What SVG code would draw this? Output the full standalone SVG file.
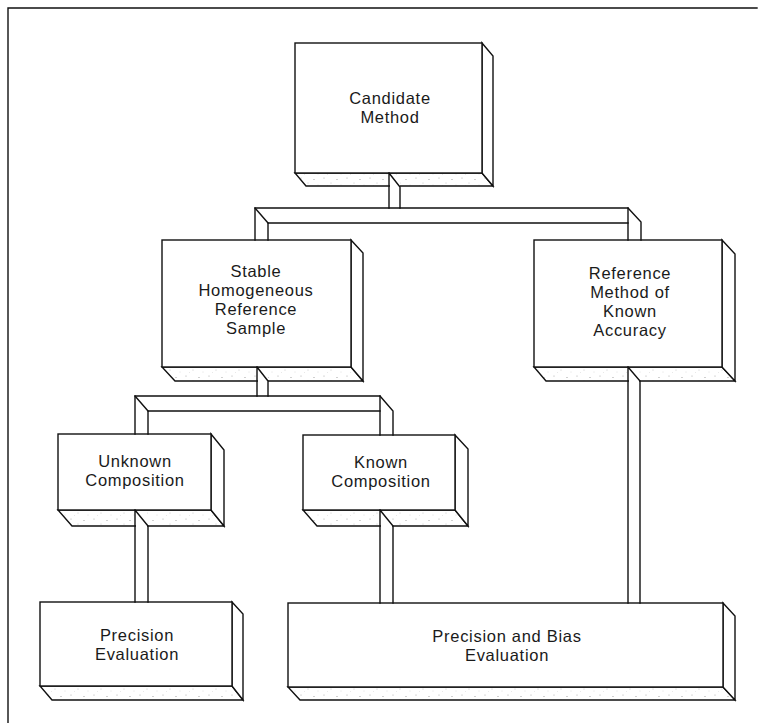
<svg xmlns="http://www.w3.org/2000/svg" width="760" height="723" viewBox="0 0 760 723">
<style>
.ln{fill:none;stroke:#111;stroke-width:1.4;stroke-linejoin:miter;stroke-linecap:square}
.front{fill:#fff;stroke:#111;stroke-width:1.4}
.side{fill:#fff;stroke:#111;stroke-width:1.4}
.bottom{fill:url(#stip);stroke:#111;stroke-width:1.4}
.t{font-family:"Liberation Sans",Arial,sans-serif;font-size:16.5px;letter-spacing:0.7px;fill:#1a1a1a;text-anchor:middle}
.gap{fill:#fff;stroke:none}
</style>
<defs>
<pattern id="stip" width="23" height="11" patternUnits="userSpaceOnUse">
<rect width="23" height="11" fill="#fff"/>
<circle cx="2" cy="2" r="0.6" fill="#aaa"/>
<circle cx="9" cy="7" r="0.5" fill="#bbb"/>
<circle cx="15" cy="3.5" r="0.6" fill="#999"/>
<circle cx="19" cy="9" r="0.4" fill="#bbb"/>
<circle cx="5.5" cy="9.5" r="0.4" fill="#ccc"/>
</pattern>
</defs>
<rect width="760" height="723" fill="#fff"/>
<path class="ln" d="M8,723 V8 H757"/>

<g id="candidate">
<polygon class="bottom" points="295,173 482,173 493,186 306,186"/>
<polygon class="side" points="482,43 493,56 493,186 482,173"/>
<rect class="front" x="295" y="43" width="187" height="130"/>
<text class="t" x="390" y="104">Candidate</text>
<text class="t" x="390" y="123">Method</text>
</g>

<g id="stable">
<polygon class="bottom" points="162,367 351,367 363,381 175,381"/>
<polygon class="side" points="351,240 363,253 363,381 351,367"/>
<rect class="front" x="162" y="240" width="189" height="127"/>
<text class="t" x="256" y="277">Stable</text>
<text class="t" x="256" y="296">Homogeneous</text>
<text class="t" x="256" y="315">Reference</text>
<text class="t" x="256" y="334">Sample</text>
</g>

<g id="reference">
<polygon class="bottom" points="534,367 722,367 735,381 546,381"/>
<polygon class="side" points="722,240 735,254 735,381 722,367"/>
<rect class="front" x="534" y="240" width="188" height="127"/>
<text class="t" x="630" y="279">Reference</text>
<text class="t" x="630" y="298">Method of</text>
<text class="t" x="630" y="317">Known</text>
<text class="t" x="630" y="336">Accuracy</text>
</g>

<g id="unknown">
<polygon class="bottom" points="58,510 211,510 224,526 72,526"/>
<polygon class="side" points="211,434 224,450 224,526 211,510"/>
<rect class="front" x="58" y="434" width="153" height="76"/>
<text class="t" x="135" y="467">Unknown</text>
<text class="t" x="135" y="486">Composition</text>
</g>

<g id="known">
<polygon class="bottom" points="303,510 455,510 468,526 317,526"/>
<polygon class="side" points="455,435 468,449 468,526 455,510"/>
<rect class="front" x="303" y="435" width="152" height="75"/>
<text class="t" x="381" y="468">Known</text>
<text class="t" x="381" y="487">Composition</text>
</g>

<g id="precision">
<polygon class="bottom" points="40,686 232,686 243,700 52,700"/>
<polygon class="side" points="232,602 243,614 243,700 232,686"/>
<rect class="front" x="40" y="602" width="192" height="84"/>
<text class="t" x="137" y="641">Precision</text>
<text class="t" x="137" y="660">Evaluation</text>
</g>

<g id="precision-bias">
<polygon class="bottom" points="288,687 723,687 735,700 300,700"/>
<polygon class="side" points="723,603 735,616 735,700 723,687"/>
<rect class="front" x="288" y="603" width="435" height="84"/>
<text class="t" x="507" y="642">Precision and Bias</text>
<text class="t" x="507" y="661">Evaluation</text>
</g>

<g id="connectors">
<rect class="gap" x="390" y="175" width="10" height="32"/>
<path class="ln" d="M389,173 V208 M389,173 L400,187 V208"/>
<path class="ln" d="M255,240 V208 H628 L641,222 V240"/>
<path class="ln" d="M255,208 L268,223"/>
<path class="ln" d="M268,240 V223 H628"/>
<path class="ln" d="M628,208 V240"/>
<rect class="gap" x="258" y="369" width="10" height="26"/>
<path class="ln" d="M257,367 V396 M257,367 L268,381 V396"/>
<path class="ln" d="M135,434 V396 H380 L393,411 V435"/>
<path class="ln" d="M135,396 L148,411"/>
<path class="ln" d="M148,434 V411 H380"/>
<path class="ln" d="M380,396 V435"/>
<rect class="gap" x="136" y="512" width="11" height="89"/>
<path class="ln" d="M135,510 V602 M135,510 L148,526 V602"/>
<rect class="gap" x="381" y="512" width="11" height="90"/>
<path class="ln" d="M380,510 V603 M380,510 L393,526 V603"/>
<rect class="gap" x="629" y="369" width="10" height="233"/>
<path class="ln" d="M628,367 V603 M628,367 L640,381 V603"/>
</g>
</svg>
